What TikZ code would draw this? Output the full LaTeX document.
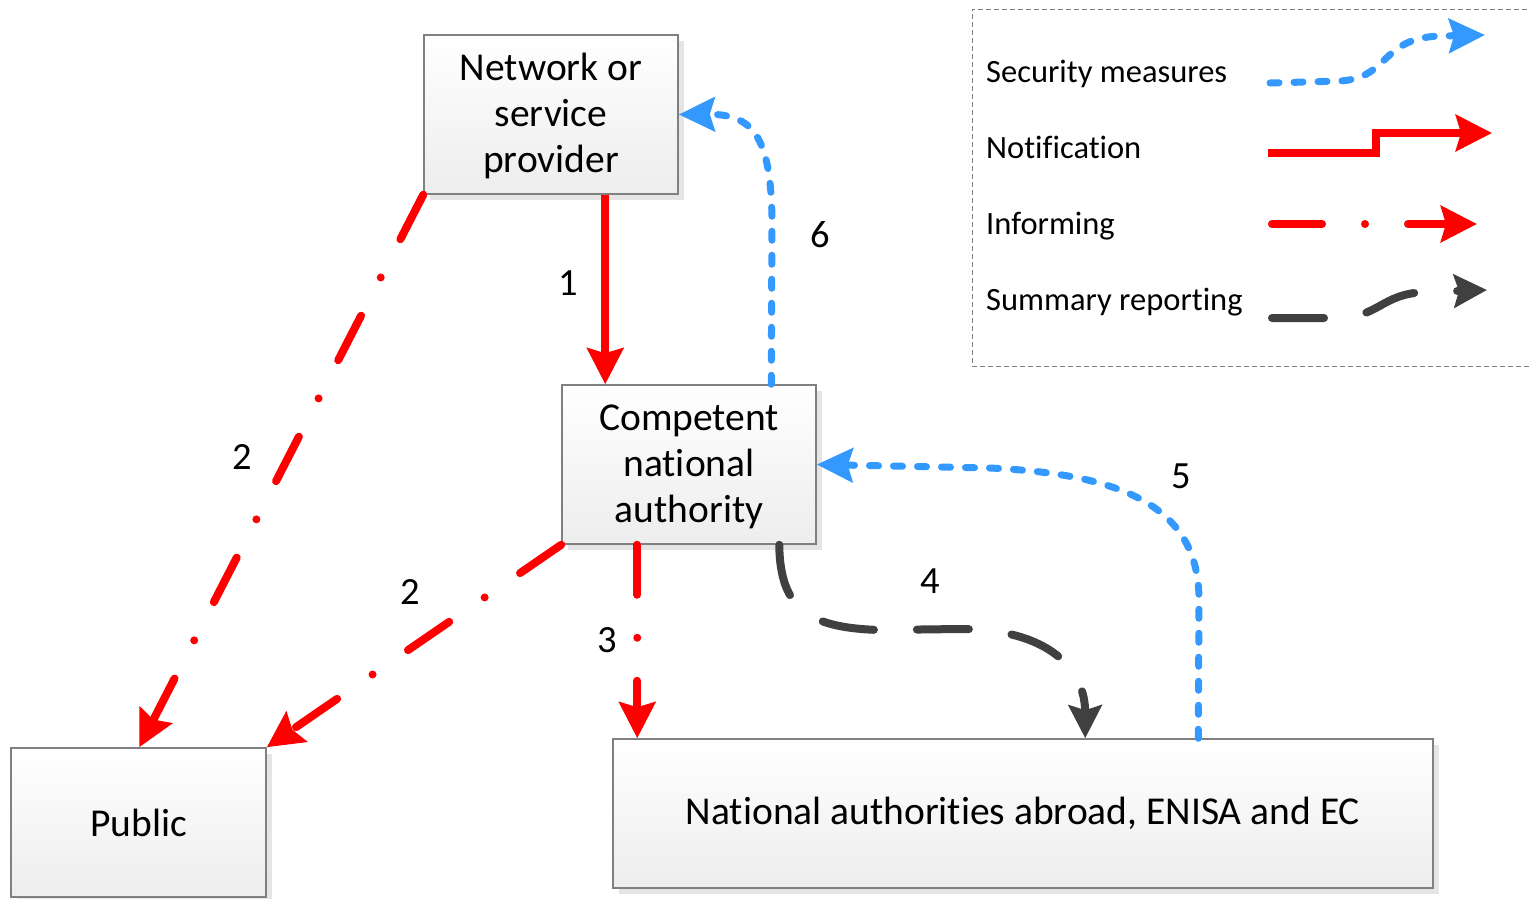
\documentclass[tikz,border=0pt]{standalone}
\usepackage{fontspec}
\setmainfont{Carlito}[Ligatures={NoCommon}]
\usetikzlibrary{arrows.meta,shadows}
\definecolor{cred}{RGB}{255,0,0}
\definecolor{cblue}{RGB}{51,153,255}
\definecolor{cgray}{RGB}{64,64,64}
\definecolor{bordergray}{RGB}{128,128,128}
\begin{document}
\begin{tikzpicture}[x=1pt,y=-1pt,
  box/.style={draw=bordergray, line width=1.5pt, top color=white, bottom color=black!7,
    drop shadow={shadow xshift=6pt, shadow yshift=-6pt, fill=black!10, opacity=1},
    align=center, inner sep=0pt, font=\fontsize{39.5}{46}\selectfont},
  lbl/.style={font=\fontsize{38.5}{44}\selectfont, inner sep=0pt},
  legtext/.style={font=\fontsize{32.5}{36}\selectfont, inner sep=0pt, anchor=base west},
  redtip/.style={-{Stealth[length=36pt,width=36pt,inset=5pt]}},
  notif/.style={draw=cred, line width=8pt, redtip},
  inform/.style={draw=cred, line width=8pt, line cap=round, dash pattern=on 50pt off 43pt on 0pt off 43pt, redtip},
  secur/.style={draw=cblue, line width=7pt, line cap=round, dash pattern=on 9pt off 15pt, -{Stealth[length=36pt,width=34pt,inset=5pt]}},
  summ/.style={draw=cgray, line width=8pt, line cap=round, dash pattern=on 52pt off 43pt, -{Stealth[length=33pt,width=33pt,inset=5pt]}},
  legendbox/.style={draw=black!50, line width=1pt, dash pattern=on 5pt off 3pt}
]
\useasboundingbox (0,0) rectangle (1529,898);

% nodes
\node[box, minimum width=254pt, minimum height=159pt] (prov) at (551,114.5) {\rule{0pt}{30pt}Network or\\service\\provider};
\node[box, minimum width=254pt, minimum height=159pt] (cna) at (689,464.5) {\rule{0pt}{30pt}Competent\\national\\authority};
\node[box, minimum width=255pt, minimum height=149pt] (pub) at (138.5,822.5) {Public};
\node[box, minimum width=820pt, minimum height=149pt] (nat) at (1023,813.5) {National authorities abroad, ENISA and EC};

% connectors
\draw[notif] ([xshift=182pt]prov.south west) -- ([xshift=44pt]cna.north west);
\draw[inform] (prov.south west) -- ([xshift=129pt]pub.north west);
\draw[inform] (cna.south west) -- (pub.north east);
\draw[inform] ([xshift=76pt]cna.south west) -- ([xshift=25pt]nat.north west);
\draw[summ] ([xshift=218pt]cna.south west) .. controls (780,610) and (810,628) .. (880,630)
   -- (960,629) .. controls (1050,629) and (1085,670) .. ([xshift=473pt]nat.north west);
\draw[secur] ([xshift=586pt]nat.north west) -- (1199,600) .. controls (1199,505) and (1120,474) .. (990,468) -- (cna.east);
\draw[secur] ([xshift=210pt]cna.north west) -- (772,220) .. controls (771,135) and (752,114) .. (prov.east);

% labels
\node[lbl] (l1) at (568,283) {1};
\node[lbl] (l2a) at (242,457) {2};
\node[lbl] (l2b) at (410,592) {2};
\node[lbl] (l3) at (607,640) {3};
\node[lbl] (l4) at (930,581) {4};
\node[lbl] (l5) at (1181,476) {5};
\node[lbl] (l6) at (820,235) {6};

% legend
\draw[legendbox] (1535,9) -- (972,9) -- (972,366) -- (1535,366);
\node[legtext] (t1) at (986,82) {Security measures};
\node[legtext] (t2) at (986,158) {Notification};
\node[legtext] (t3) at (986,234) {Informing};
\node[legtext] (t4) at (986,310) {Summary reporting};

\coordinate (s1) at (1270,83);
\coordinate (s2) at (1485,35);
\draw[secur] (s1) -- (1340,81) .. controls (1390,78) and (1380,38) .. (1440,36) -- (s2);
\coordinate (n1) at (1268,153);
\coordinate (n2) at (1492,133);
\draw[notif] (n1) -- (1376,153) -- (1376,133) -- (n2);
\coordinate (i1) at (1272,224);
\coordinate (i2) at (1477,224);
\draw[inform] (i1) -- (i2);
\coordinate (r1) at (1272,318);
\coordinate (r2) at (1487,290);
\draw[summ] (r1) -- (1335,318) .. controls (1380,318) and (1380,294) .. (1425,292) -- (r2);
\end{tikzpicture}
\end{document}
